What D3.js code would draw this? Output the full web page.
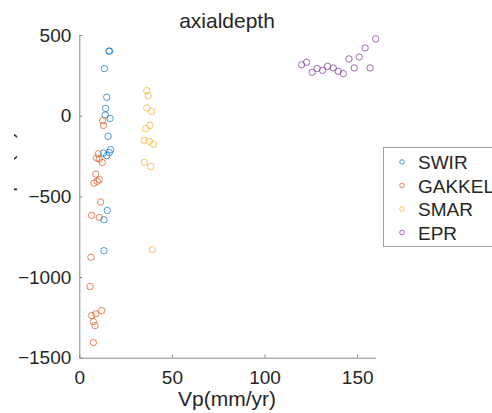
<!DOCTYPE html>
<html>
  <head>
    <meta charset="utf-8">
    <title>axialdepth</title>
    <style>
      body { margin: 0; background: #fff; }
      text { font-family: "Liberation Sans", Arial, sans-serif; fill: #262626; }
    </style>
  </head>
  <body>
    <svg id="chart" width="492" height="413"></svg>
    <script src="https://d3js.org/d3.v7.min.js"></script>
    <script>
      // data: [Vp (mm/yr), axial depth (m)]
      var swir = [[16, 400], [16.4, 400], [13.5, 292], [14.8, 114], [14.2, 45], [14.0, 4],
        [16.6, -17], [15.6, -128], [16.9, -211], [16.2, -228], [13.0, -232], [14.8, -248],
        [15.1, -587], [13.3, -645], [13.3, -837]];
      var gakkel = [[12.6, -31], [13.0, -60], [10.3, -236], [9.4, -263], [10.8, -269],
        [12.4, -290], [8.9, -362], [10.8, -397], [9.7, -407], [7.9, -418], [11.5, -535],
        [6.7, -618], [10.8, -631], [6.3, -877], [5.8, -1059], [12.1, -1208], [8.9, -1228],
        [6.7, -1239], [7.6, -1276], [8.5, -1301], [7.6, -1406]];
      var smar = [[36.4, 155], [37.2, 124], [36.4, 48], [39.1, 27], [35.8, -81], [38.2, -60],
        [34.9, -153], [37.8, -159], [40.0, -176], [35.1, -290], [38.5, -314], [39.4, -831]];
      var epr = [[120.0, 316], [122.7, 331], [125.7, 269], [128.4, 292], [131.3, 281],
        [134.0, 306], [137.1, 296], [139.8, 275], [142.5, 261], [145.6, 352], [148.4, 296],
        [151.1, 364], [154.3, 420], [157.0, 296], [160.0, 476]];

      var seriesNames = ['SWIR', 'GAKKEL', 'SMAR', 'EPR'];
      var seriesData = [swir, gakkel, smar, epr];
      var colors = ['#0072BD', '#D95319', '#EDB120', '#7E2F8E'];
      var xTicks = [0, 50, 100, 150];
      var yTicks = [-1500, -1000, -500, 0, 500];

      const svg = d3.select('#chart')

      var x = d3.scaleLinear().domain([0, 160]).range([79.3, 375.7]);
      var y = d3.scaleLinear().domain([-1500, 500]).range([357.7, 35]);

      // axes (inward ticks, no box)
      var xAxis = svg.append('g')
        .attr('transform', 'translate(0,' + y(-1500) + ')')
        .call(d3.axisBottom(x).tickValues(xTicks).tickFormat(d3.format('d'))
          .tickSizeInner(-3).tickSizeOuter(0).tickPadding(13));
      var yAxis = svg.append('g')
        .attr('transform', 'translate(' + x(0) + ',0)')
        .call(d3.axisLeft(y).tickValues(yTicks).tickFormat(d3.format('d'))
          .tickSizeInner(-3).tickSizeOuter(0).tickPadding(8));

      [xAxis, yAxis].forEach(function (g) {
        g.select('.domain').attr('stroke', '#8a8a8a');
        g.selectAll('.tick line').attr('stroke', '#8a8a8a');
        g.selectAll('.tick text')
          .style('font-family', '"Liberation Sans", Arial, sans-serif')
          .style('font-size', '19px')
          .attr('fill', '#262626');
      });

      // points
      seriesData.forEach(function (d, i) {
        svg.append('g')
          .selectAll('circle')
          .data(d)
          .join('circle')
            .attr('cx', p => x(p[0]))
            .attr('cy', p => y(p[1]))
            .attr('r', 3.2)
            .attr('fill', 'none')
            .attr('stroke', colors[i])
            .attr('stroke-opacity', 0.7)
            .attr('stroke-width', 1);
      });

      // title and labels
      svg.append('text')
        .attr('x', 227)
        .attr('y', 28)
        .attr('text-anchor', 'middle')
        .style('font-size', '21px')
        .text('axialdepth');

      svg.append('text')
        .attr('x', 227)
        .attr('y', 406)
        .attr('text-anchor', 'middle')
        .style('font-size', '21px')
        .text('Vp(mm/yr)');

      // y label is mostly cut off in the original, only the descenders show
      svg.append('clipPath')
        .attr('id', 'ylab-clip')
        .append('rect')
          .attr('x', 14).attr('y', 0).attr('width', 20).attr('height', 413);
      svg.append('g')
        .attr('clip-path', 'url(#ylab-clip)')
        .append('text')
          .attr('transform', 'translate(13,131) rotate(-90)')
          .attr('text-anchor', 'end')
          .style('font-size', '21px')
          .text('axialdepth(m)');

      // legend
      var legend = svg.append('g');
      legend.append('rect')
        .attr('x', 383.5)
        .attr('y', 147.5)
        .attr('width', 120)
        .attr('height', 99)
        .attr('fill', '#fff')
        .attr('stroke', '#a0a0a0');

      var items = legend.selectAll('g.item')
        .data(seriesNames)
        .join('g')
          .attr('class', 'item')
          .attr('transform', (d, i) => 'translate(0,' + (169 + i * 23.5) + ')');
      items.append('circle')
        .attr('cx', 402)
        .attr('cy', -7)
        .attr('r', 2.3)
        .attr('fill', 'none')
        .attr('stroke', (d, i) => colors[i])
        .attr('stroke-opacity', 0.7);
      items.append('text')
        .attr('x', 418)
        .attr('y', 0)
        .style('font-size', '19px')
        .text(d => d);
    </script>
  </body>
</html>
